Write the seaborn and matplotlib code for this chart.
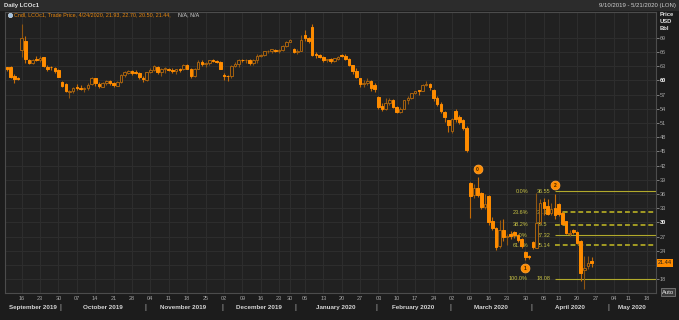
import numpy as np
import pandas as pd
import matplotlib
matplotlib.use("Agg")
import matplotlib.pyplot as plt
import matplotlib.transforms as mtransforms
from matplotlib.lines import Line2D
from matplotlib.patches import Rectangle
import seaborn as sns

# ---------------- data ----------------
start_date = "2019-09-10"
end_date = "2020-05-21"
holidays = ["2019-12-25", "2019-12-26", "2020-01-01", "2020-04-10", "2020-05-08"]

opens = [
    # Sep 2019
    62.8, 62.9, 61.0, 60.5, 66.5, 68.3, 64.3, 63.7, 64.6, 64.2, 64.9, 62.9, 62.9, 62.6, 62.2,
    # Oct 2019
    59.7, 59.3, 57.6, 57.8, 58.4, 58.4, 58.1, 58.3, 59.2, 60.4, 59.3, 58.7, 59.4, 59.8, 59.5,
    58.9, 59.6, 61.2, 61.6, 62.0, 61.6, 61.6, 60.6,
    # Nov 2019
    60.0, 61.7, 62.2, 62.9, 61.7, 62.3, 62.5, 62.2, 62.0, 62.4, 62.4, 63.3, 62.4, 60.9, 62.5,
    63.9, 63.4, 63.7, 64.3, 64.1, 63.9,
    # Dec 2019
    61.2, 60.9, 60.9, 63.0, 63.4, 64.4, 64.2, 64.3, 63.7, 64.2, 65.2, 65.3, 66.1, 66.2, 66.5,
    66.1, 66.4, 67.3, 68.2, 66.7,
    # Jan 2020
    66.0, 66.3, 69.5, 68.9, 71.2, 65.6, 65.4, 65.0, 64.2, 64.5, 64.0, 64.6, 65.3, 65.2, 64.6,
    63.2, 62.0, 60.5, 59.3, 59.5, 59.9, 59.0,
    # Feb 2020
    56.4, 54.6, 54.0, 55.3, 55.9, 54.4, 53.3, 54.0, 55.8, 56.3, 57.3, 57.9, 57.8, 59.1, 59.3,
    58.0, 56.3, 55.0, 53.4, 51.6,
    # Mar 2020
    49.4, 53.5, 52.2, 51.6, 50.0, 38.4, 35.8, 37.2, 36.2, 33.3, 35.5, 30.2, 28.8, 25.0, 28.4,
    26.9, 27.6, 27.9, 27.3, 26.6, 23.8, 23.0,
    # Apr 2020
    25.9, 24.7, 30.0, 34.3, 33.4, 32.0, 33.0, 33.9, 31.9, 30.2, 27.5, 28.3, 28.0, 26.0, 19.9,
    20.8, 21.93,
]
highs = [
    62.9, 63.1, 61.4, 60.8, 72.0, 69.4, 64.6, 64.6, 65.2, 65.1, 65.0, 63.2, 63.0, 62.9, 62.4,
    59.9, 59.5, 58.0, 58.6, 59.3, 59.1, 58.7, 59.4, 60.8, 60.6, 59.6, 59.7, 60.1, 60.0, 59.7,
    59.8, 61.3, 62.0, 62.2, 62.1, 62.2, 61.8, 60.9,
    61.8, 62.6, 63.2, 63.0, 62.7, 62.8, 62.7, 62.7, 62.5, 62.7, 63.4, 63.4, 62.6, 62.6, 64.2,
    64.2, 63.8, 64.4, 64.6, 64.2, 64.1,
    61.5, 61.1, 63.2, 63.8, 64.6, 64.6, 64.6, 64.6, 64.5, 65.6, 65.6, 66.3, 66.4, 66.6, 66.6,
    66.6, 67.4, 68.3, 68.7, 66.9,
    66.6, 69.5, 70.7, 69.2, 71.8, 66.0, 65.6, 65.1, 64.6, 64.7, 64.8, 65.1, 65.6, 65.5, 64.8,
    63.3, 62.7, 60.6, 60.0, 60.4, 60.0, 59.4,
    56.6, 55.2, 56.3, 56.2, 56.0, 54.5, 54.4, 55.9, 56.6, 57.4, 57.8, 57.9, 59.3, 59.8, 59.4,
    58.1, 56.6, 55.4, 53.5, 51.7,
    52.1, 53.9, 52.6, 51.9, 50.3, 38.6, 38.2, 39.5, 36.4, 35.9, 35.8, 31.2, 29.0, 30.6, 30.8,
    27.6, 28.1, 28.2, 27.5, 26.8, 24.0, 23.2,
    26.0, 36.3, 35.0, 35.1, 35.0, 34.0, 36.0, 34.2, 32.4, 30.3, 28.4, 28.6, 28.1, 26.3, 22.9,
    22.9, 22.70,
]
lows = [
    61.9, 60.5, 59.5, 60.0, 64.9, 63.6, 63.4, 63.4, 64.0, 63.9, 62.9, 61.9, 62.2, 61.6, 60.7,
    58.7, 57.5, 56.2, 57.4, 57.9, 57.9, 57.6, 58.0, 59.1, 58.8, 58.4, 58.5, 59.1, 59.1, 58.6,
    58.8, 59.5, 60.7, 61.3, 61.2, 61.3, 60.2, 59.6,
    59.8, 61.5, 61.9, 61.4, 61.0, 61.6, 61.9, 61.6, 61.3, 61.8, 62.2, 62.3, 60.6, 60.7, 62.3,
    63.0, 62.9, 63.3, 63.9, 63.6, 62.3,
    60.1, 59.9, 60.6, 62.8, 62.9, 63.9, 63.7, 63.3, 63.3, 63.7, 64.9, 65.1, 65.8, 65.7, 65.9,
    65.8, 66.3, 67.1, 68.0, 65.7,
    65.6, 66.1, 68.4, 67.9, 65.2, 64.8, 64.8, 63.9, 63.9, 63.7, 63.9, 64.4, 64.9, 64.2, 63.0,
    61.4, 60.5, 58.5, 58.6, 59.0, 57.7, 57.6,
    53.9, 53.6, 53.8, 54.7, 54.2, 53.1, 53.2, 53.9, 55.1, 56.1, 57.2, 57.0, 57.7, 58.8, 57.9,
    55.6, 54.5, 53.2, 51.3, 49.0,
    48.8, 51.2, 50.7, 49.6, 44.8, 31.0, 35.2, 35.4, 32.8, 32.9, 29.5, 28.5, 24.1, 24.5, 26.0,
    25.3, 26.6, 26.8, 25.9, 24.7, 22.1, 22.3,
    24.3, 24.5, 29.6, 31.6, 31.5, 31.6, 30.8, 31.3, 29.5, 27.5, 27.2, 27.6, 25.4, 17.6, 15.98,
    20.2, 20.50,
]
closes = [
    62.38, 60.81, 60.38, 60.22, 69.02, 64.55, 63.60, 64.40, 64.28, 64.77, 63.10, 62.39, 62.74, 61.91, 60.78,
    58.89, 57.69, 57.71, 58.37, 58.35, 58.24, 58.32, 59.10, 60.51, 59.35, 58.74, 59.42, 59.91, 59.42, 58.96,
    59.70, 61.17, 61.67, 62.02, 61.57, 61.59, 60.61, 60.23,
    61.69, 62.13, 62.96, 61.74, 62.29, 62.51, 62.18, 62.06, 62.37, 62.28, 63.30, 62.44, 60.91, 62.40, 63.97,
    63.39, 63.65, 64.27, 64.06, 63.87, 62.43,
    60.92, 60.82, 63.00, 63.39, 64.39, 64.25, 64.34, 63.72, 64.20, 65.22, 65.34, 66.10, 66.17, 66.54, 66.14,
    66.39, 67.20, 68.16, 68.44, 66.00,
    66.25, 68.60, 68.91, 68.27, 65.44, 65.37, 64.98, 64.20, 64.49, 64.00, 64.62, 64.85, 65.20, 64.59, 63.21,
    62.04, 60.69, 59.32, 59.51, 59.81, 58.29, 58.16,
    54.45, 53.96, 55.28, 55.93, 54.47, 53.27, 54.01, 55.79, 56.34, 57.32, 57.67, 57.75, 59.12, 59.31, 58.50,
    56.30, 54.95, 53.43, 52.18, 50.52,
    51.90, 51.86, 51.13, 49.99, 45.27, 35.60, 37.22, 35.79, 33.22, 33.85, 30.05, 28.73, 24.88, 28.47, 26.98,
    27.03, 27.15, 27.39, 26.34, 24.93, 22.76, 22.74,
    24.74, 29.94, 34.11, 33.05, 31.87, 32.84, 31.48, 31.74, 29.60, 27.69, 27.82, 28.08, 25.57, 19.33, 20.37,
    21.33, 21.44,
]

fib_levels = [36.55, 32.19, 29.5, 27.32, 25.14, 18.08]
fib_pcts = ["0.0%", "23.6%", "38.2%", "50.0%", "61.8%", "100.0%"]
fib_texts = ["36.55", "32.19", "29.5", "27.32", "25.14", "18.08"]
fib_dashed = [False, True, True, False, True, False]
fib_anchor_date = "2020-04-09"

wave_labels = ["0", "1", "2"]
wave_dates = ["2020-03-11", "2020-03-30", "2020-04-09"]
wave_prices = [41.2, 20.3, 37.9]

y_ticks = list(range(18, 70, 3))
last_price = 21.44

# ---------------- style ----------------
BG_FIG = "#1c1c1c"
BG_AX = "#212121"
GRID = "#2e2e2e"
DOWN = "#ff8c00"
DOWN_WICK = "#c56c08"
UP_EDGE = "#a6620f"
UP_WICK = "#8e5512"
FIB_C = "#b2aa2c"
FIB_T = "#c8c244"

sns.set_theme(style="dark", rc={"axes.facecolor": BG_AX, "figure.facecolor": BG_FIG})
plt.rcParams["font.family"] = ["Liberation Sans", "DejaVu Sans"]

assert len(opens) == len(highs) == len(lows) == len(closes)

cal = pd.bdate_range(start_date, end_date)
cal = cal[~cal.isin(pd.to_datetime(holidays))]
n = len(closes)
x = np.arange(n)

fig = plt.figure(figsize=(6.79, 3.20), dpi=100)
fig.patch.set_facecolor(BG_FIG)
W, H = 679, 320
ax_l, ax_r, ax_t, ax_b = 5, 656, 12, 293
ax = fig.add_axes([ax_l / W, 1 - ax_b / H, (ax_r - ax_l) / W, (ax_b - ax_t) / H])
ax.set_facecolor(BG_AX)

# header bar
fig.patches.append(Rectangle((0, 1 - 10.5 / H), 1, 10.5 / H, transform=fig.transFigure,
                             facecolor="#2c2c2c", edgecolor="none", zorder=0))

xlim = (-0.54, 176.5)
ax.set_xlim(*xlim)
ax.set_ylim(15.1, 74.43)

o = np.array(opens); c = np.array(closes); hi = np.array(highs); lo = np.array(lows)
up = c >= o
wick_cols = [UP_WICK if u else DOWN_WICK for u in up]
face_cols = [BG_AX if u else DOWN for u in up]
edge_cols = [UP_EDGE if u else DOWN for u in up]
ax.vlines(x, lo, hi, colors=wick_cols, lw=0.8, zorder=3)
ax.bar(x, np.maximum(np.abs(c - o), 0.15), bottom=np.minimum(o, c), width=0.7,
       color=face_cols, edgecolor=edge_cols, linewidth=0.7, zorder=4)

# grid + ticks
mondays = pd.date_range("2019-09-16", "2020-05-18", freq="W-MON")
tick_pos = [int(cal.searchsorted(m)) for m in mondays]
tick_lab = [m.strftime("%d") for m in mondays]
ax.set_xticks(tick_pos)
ax.set_xticklabels(tick_lab)
ax.set_yticks(y_ticks)
# the last-price tag covers the "21" label
ax.set_yticklabels(["" if v == 21 else str(v) for v in y_ticks])
ax.yaxis.tick_right()
ax.grid(True, color=GRID, lw=0.7)
ax.set_axisbelow(True)
ax.tick_params(axis="x", labelsize=4, colors="#a8a8a8", length=1.5, width=0.5, pad=0.6)
ax.tick_params(axis="y", labelsize=4, colors="#a8a8a8", length=1.8, width=0.5, pad=0.8,
               right=True, left=False)
for lab in ax.get_yticklabels():
    if lab.get_text() in ("30", "60"):
        lab.set_color("#ffffff")
        lab.set_fontweight("bold")
for s in ax.spines.values():
    s.set_color("#4c4c4c")
    s.set_linewidth(0.8)

# month labels
btf = mtransforms.blended_transform_factory(ax.transData, ax.transAxes)
months = pd.period_range("2019-09", "2020-05", freq="M")
for i, per in enumerate(months):
    idx = np.where(cal.to_period("M") == per)[0]
    a = max(idx[0] - 0.5, xlim[0]); b = min(idx[-1] + 0.5, xlim[1])
    ax.text((a + b) / 2, -0.05, per.strftime("%B %Y"), transform=btf, ha="center", va="center",
            fontsize=4.5, fontweight="bold", color="#d6d6d6", clip_on=False)
    if i > 0:
        ax.text(idx[0] - 0.5, -0.05, "|", transform=btf, ha="center", va="center",
                fontsize=5, color="#bbbbbb", clip_on=False)

# fibonacci retracement
x_anchor = int(cal.get_loc(pd.Timestamp(fib_anchor_date)))
for lev, pct, txt, dsh in zip(fib_levels, fib_pcts, fib_texts, fib_dashed):
    if dsh:
        ax.hlines(lev, x_anchor, xlim[1], colors="#a39c24", lw=1.4, linestyles=(0, (2.5, 1.5)), zorder=2)
    else:
        ax.hlines(lev, x_anchor, xlim[1], colors=FIB_C, lw=0.8, zorder=2)
    ax.text(141.7, lev, pct, ha="right", va="center", fontsize=4, color=FIB_T, zorder=2)
    ax.text(144.0, lev, txt, ha="left", va="center", fontsize=4, color=FIB_T, zorder=2)

# wave markers
wx = [int(cal.get_loc(pd.Timestamp(d))) for d in wave_dates]
sns.scatterplot(x=wx, y=wave_prices, ax=ax, s=40, color=DOWN, edgecolor="#ffa030",
                linewidth=0.6, zorder=6, legend=False)
for xi, yi, t in zip(wx, wave_prices, wave_labels):
    ax.text(xi, yi, t, ha="center", va="center", fontsize=3.6, fontweight="bold",
            color="#3a2000", zorder=7)

# last price tag
ytf = mtransforms.blended_transform_factory(ax.transAxes, ax.transData)
ax.text(1.003, last_price, f"{last_price:.2f}", transform=ytf, ha="left", va="center",
        fontsize=4, color="#1a1a1a", clip_on=False,
        bbox=dict(boxstyle="square,pad=0.25", fc=DOWN, ec="none"), zorder=8)

# header & labels
fig.text(4 / W, 1 - 5.2 / H, "Daily LCOc1", fontsize=4.3, color="#e2e2e2", va="center",
         fontweight="bold")
fig.text(676 / W, 1 - 5.2 / H, "9/10/2019 - 5/21/2020 (LON)", fontsize=4.3, color="#d0d0d0",
         va="center", ha="right")
fig.add_artist(Line2D([10 / W], [1 - 15 / H], marker="o", ms=3.2, color="#9fc0e0",
                      mec="#dfe8f0", mew=0.4, transform=fig.transFigure))
fig.text(14 / W, 1 - 15 / H, "Cndl, LCOc1, Trade Price, 4/24/2020, 21.93, 22.70, 20.50, 21.44,",
         fontsize=3.9, color="#e8870f", va="center")
fig.text(178 / W, 1 - 15 / H, "N/A, N/A", fontsize=3.9, color="#d8d8d8", va="center")
for yy, t in zip([14, 21.5, 29], ["Price", "USD", "Bbl"]):
    fig.text(660 / W, 1 - yy / H, t, fontsize=4.2, color="#e0e0e0", va="center",
             fontweight="bold")
fig.text(662 / W, 1 - 292 / H, "Auto", fontsize=4.2, color="#eaeaea", va="center",
         bbox=dict(boxstyle="square,pad=0.2", fc="#3a3a3a", ec="#8a8a8a", lw=0.5))

fig.savefig("out.png", dpi=100, facecolor=fig.get_facecolor())
